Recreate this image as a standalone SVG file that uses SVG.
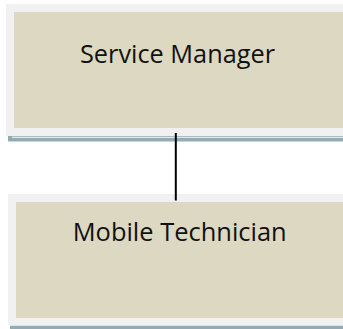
<svg xmlns="http://www.w3.org/2000/svg" width="343" height="329" viewBox="0 0 343 329">
<style>
.frame{fill:#f1f1f1}
.body{fill:#ddd8c2}
.shadow{fill:#93abb2}
.gap{fill:#dfe8ea}
.label{font-family:"Open Sans","Liberation Sans",sans-serif;font-size:25px;fill:#111;text-anchor:middle}
.conn{stroke:#000;stroke-width:2;fill:none}
</style>
<rect width="343" height="329" fill="#fff"/>
<g id="service-manager">
<rect class="shadow" x="8" y="135.5" width="335" height="6"/>
<rect class="gap" x="12" y="136.7" width="331" height="1.3"/>
<rect class="frame" x="6" y="4" width="337" height="132"/>
<rect class="body" x="14" y="12" width="329" height="116"/>
<text class="label" x="177.5" y="63" textLength="195" lengthAdjust="spacingAndGlyphs">Service Manager</text>
</g>
<g id="mobile-technician">
<rect class="shadow" x="10" y="325.5" width="333" height="4"/>
<rect class="frame" x="8" y="194" width="335" height="131.5"/>
<rect class="body" x="16" y="202" width="327" height="116"/>
<text class="label" x="179.7" y="240.7" textLength="214" lengthAdjust="spacingAndGlyphs">Mobile Technician</text>
</g>
<g id="connectors">
<line class="conn" x1="175.8" y1="133" x2="175.8" y2="200.5"/>
</g>
</svg>
